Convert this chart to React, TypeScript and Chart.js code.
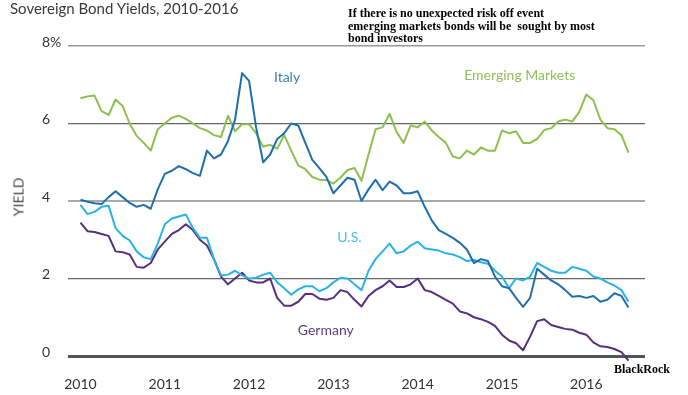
import React, { useEffect, useRef } from 'react';
import { Chart, registerables } from 'chart.js';

Chart.register(...registerables);

// ---- data (monthly, Jan 2010 .. Jul 2016) ----
const START_YEAR = 2010;
const MONTH_NAMES = ['Jan', 'Feb', 'Mar', 'Apr', 'May', 'Jun', 'Jul', 'Aug', 'Sep', 'Oct', 'Nov', 'Dec'];
const MONTH_COUNT = 79;
const MONTHS: string[] = Array.from({ length: MONTH_COUNT }, (_, i) => `${MONTH_NAMES[i % 12]} ${START_YEAR + Math.floor(i / 12)}`);

const EMERGING = [
  6.65, 6.7, 6.72, 6.32, 6.22, 6.62, 6.45, 6.0, 5.68, 5.5, 5.3, 5.85,
  6.0, 6.15, 6.2, 6.12, 6.0, 5.88, 5.82, 5.7, 5.65, 6.2, 5.8, 5.98,
  5.98, 5.75, 5.4, 5.45, 5.35, 5.7, 5.3, 4.92, 4.82, 4.62, 4.55, 4.54,
  4.45, 4.6, 4.8, 4.85, 4.52, 5.2, 5.85, 5.9, 6.25, 5.78, 5.5, 5.95,
  5.9, 6.05, 5.82, 5.65, 5.5, 5.15, 5.1, 5.3, 5.2, 5.38, 5.3, 5.3,
  5.82, 5.75, 5.8, 5.5, 5.5, 5.6, 5.83, 5.88, 6.05, 6.1, 6.05, 6.3,
  6.75, 6.6, 6.1, 5.88, 5.85, 5.7, 5.25,
];
const ITALY = [
  4.03, 3.98, 3.94, 3.92, 4.1, 4.25, 4.1, 3.95, 3.85, 3.9, 3.8, 4.3,
  4.7, 4.78, 4.9, 4.82, 4.72, 4.65, 5.3, 5.1, 5.2, 5.55, 6.1, 7.3,
  7.1, 5.9, 5.0, 5.2, 5.6, 5.75, 6.0, 5.95, 5.5, 5.06, 4.85, 4.62,
  4.2, 4.4, 4.6, 4.55, 4.0, 4.3, 4.55, 4.28, 4.5, 4.4, 4.2, 4.2,
  4.25, 3.85, 3.5, 3.25, 3.15, 3.05, 2.92, 2.75, 2.4, 2.5, 2.45, 2.05,
  1.8, 1.75, 1.5, 1.27, 1.5, 2.25, 2.1, 1.95, 1.85, 1.7, 1.53, 1.55,
  1.5, 1.55, 1.4, 1.45, 1.62, 1.55, 1.25,
];
const US = [
  3.9, 3.66, 3.72, 3.85, 3.88, 3.3, 3.1, 2.98, 2.7, 2.55, 2.5, 2.9,
  3.4, 3.55, 3.6, 3.65, 3.3, 3.05, 3.05, 2.5, 2.08, 2.1, 2.2, 2.08,
  2.0, 2.02, 2.1, 2.15, 1.9, 1.75, 1.58, 1.72, 1.8, 1.8, 1.67, 1.75,
  1.9, 2.02, 2.0, 1.85, 1.7, 2.2, 2.5, 2.7, 2.9, 2.65, 2.7, 2.85,
  2.95, 2.78, 2.75, 2.72, 2.65, 2.62, 2.55, 2.45, 2.48, 2.42, 2.38, 2.2,
  2.05, 1.75, 2.0, 1.95, 2.05, 2.4, 2.3, 2.2, 2.15, 2.15, 2.3, 2.25,
  2.2, 2.05, 2.0, 1.9, 1.82, 1.7, 1.4,
];
const GERMANY = [
  3.44, 3.22, 3.2, 3.15, 3.1, 2.7, 2.68, 2.62, 2.3, 2.28, 2.4, 2.75,
  2.95, 3.15, 3.25, 3.4, 3.25, 3.0, 2.85, 2.5, 2.05, 1.85, 2.0, 2.15,
  1.95, 1.9, 1.9, 2.0, 1.5, 1.3, 1.3, 1.4, 1.6, 1.6, 1.48, 1.45,
  1.5, 1.7, 1.65, 1.45, 1.28, 1.55, 1.7, 1.8, 1.95, 1.78, 1.78, 1.85,
  2.0, 1.7, 1.65, 1.55, 1.45, 1.35, 1.15, 1.1, 1.0, 0.95, 0.88, 0.78,
  0.55, 0.4, 0.33, 0.15, 0.5, 0.9, 0.95, 0.8, 0.75, 0.7, 0.68, 0.6,
  0.55, 0.35, 0.25, 0.23, 0.18, 0.1, -0.12,
];

const YEAR_TICKS = [2010, 2011, 2012, 2013, 2014, 2015, 2016];
const YIELD_TICKS = [0, 2, 4, 6, 8];

// series label anchor positions (year, yield)
const SERIES = [
  { name: 'Italy', values: ITALY, color: '#1f6fae', labelColor: '#3b80b8', labelX: 2012.45, labelY: 7.2 },
  { name: 'U.S.', values: US, color: '#2bb3e6', labelColor: '#4dbde6', labelX: 2013.19, labelY: 3.05 },
  { name: 'Germany', values: GERMANY, color: '#55307f', labelColor: '#5b3d85', labelX: 2012.91, labelY: 0.65 },
  { name: 'Emerging Markets', values: EMERGING, color: '#8cc04f', labelColor: '#8fbf5a', labelX: 2015.21, labelY: 7.23 },
];

const FONT = 'Lato, "Open Sans", sans-serif';

const GRID_STYLE: Record<number, { color: string; width: number }> = {
  0: { color: '#555555', width: 3 },
  2: { color: '#666666', width: 1.2 },
  4: { color: '#aaaaaa', width: 2 },
  6: { color: '#666666', width: 1.2 },
  8: { color: '#999999', width: 1.5 },
};

const seriesLabelPlugin = {
  id: 'seriesLabels',
  afterDatasetsDraw(chart: any) {
    const { ctx, scales } = chart;
    const x = scales.x;
    const y = scales.y;
    ctx.save();
    ctx.font = `14px ${FONT}`;
    ctx.textAlign = 'center';
    ctx.textBaseline = 'middle';
    SERIES.forEach((s) => {
      ctx.fillStyle = s.labelColor;
      ctx.fillText(s.name, x.getPixelForValue(s.labelX), y.getPixelForValue(s.labelY));
    });
    ctx.restore();
  },
};

export default function App() {
  const canvasRef = useRef<HTMLCanvasElement | null>(null);

  useEffect(() => {
    document.body.style.margin = '0';
    const canvas = canvasRef.current;
    if (!canvas) return;
    const chart = new Chart(canvas, {
      type: 'line',
      data: {
        labels: MONTHS,
        datasets: SERIES.map((s) => ({
          label: s.name,
          data: s.values.map((v, i) => ({ x: START_YEAR + i / 12, y: v })),
          borderColor: s.color,
          backgroundColor: s.color,
          borderWidth: 2,
          pointRadius: 0,
          tension: 0,
          borderJoinStyle: 'round' as const,
          clip: false as any,
        })),
      },
      options: {
        responsive: false,
        animation: false,
        devicePixelRatio: 1,
        layout: { padding: { left: 42, right: 43, top: 46, bottom: 0 } },
        plugins: {
          legend: { display: false },
          tooltip: { enabled: false },
          title: { display: false },
        },
        scales: {
          x: {
            type: 'linear',
            min: 2009.852,
            max: 2016.696,
            grid: { display: false },
            border: { display: false },
            afterBuildTicks: (scale: any) => {
              scale.ticks = YEAR_TICKS.map((v) => ({ value: v }));
            },
            afterFit: (scale: any) => {
              scale.height = 39;
            },
            ticks: {
              autoSkip: false,
              maxRotation: 0,
              minRotation: 0,
              padding: 12,
              color: '#333333',
              font: { family: FONT, size: 14 },
              callback: (v: any) => String(v),
            },
          },
          y: {
            type: 'linear',
            min: 0,
            max: 8,
            border: { display: false },
            afterBuildTicks: (scale: any) => {
              scale.ticks = YIELD_TICKS.map((v) => ({ value: v }));
            },
            afterFit: (scale: any) => {
              scale.width = 26;
            },
            grid: {
              drawTicks: false,
              color: (c: any) => (GRID_STYLE[c.tick?.value] || GRID_STYLE[2]).color,
              lineWidth: (c: any) => (GRID_STYLE[c.tick?.value] || GRID_STYLE[2]).width,
            },
            ticks: {
              crossAlign: 'far',
              labelOffset: -4,
              padding: 0,
              color: '#333333',
              font: { family: FONT, size: 14 },
              callback: (v: any) => (v === 8 ? '8%' : String(v)),
            },
          },
        },
      },
      plugins: [seriesLabelPlugin],
    });
    return () => chart.destroy();
  }, []);

  return (
    <div style={{ position: 'fixed', left: 0, top: 0, width: 688, height: 395, background: '#ffffff', overflow: 'hidden' }}>
      <canvas ref={canvasRef} width={688} height={395} style={{ position: 'absolute', left: 0, top: 0, width: 688, height: 395 }} />
      <div style={{ position: 'absolute', left: 10, top: -1, font: `15px ${FONT}`, lineHeight: '18px', color: '#3a3a3a', whiteSpace: 'nowrap' }}>
        Sovereign Bond Yields, 2010-2016
      </div>
      <div style={{ position: 'absolute', left: 18, top: 197, transform: 'translate(-50%, -50%) rotate(-90deg)', font: `14px ${FONT}`, color: '#444444', whiteSpace: 'nowrap' }}>
        YIELD
      </div>
      <div style={{ position: 'absolute', left: 348, top: 7, font: 'bold 12px "Liberation Serif", serif', lineHeight: '12.5px', color: '#000000', whiteSpace: 'nowrap' }}>
        If there is no unexpected risk off event<br />
        emerging markets bonds will be&nbsp; sought by most<br />
        bond investors
      </div>
      <div style={{ position: 'absolute', left: 614, top: 362, font: 'bold 12px "Liberation Serif", serif', lineHeight: '14px', color: '#000000', whiteSpace: 'nowrap' }}>
        BlackRock
      </div>
    </div>
  );
}
